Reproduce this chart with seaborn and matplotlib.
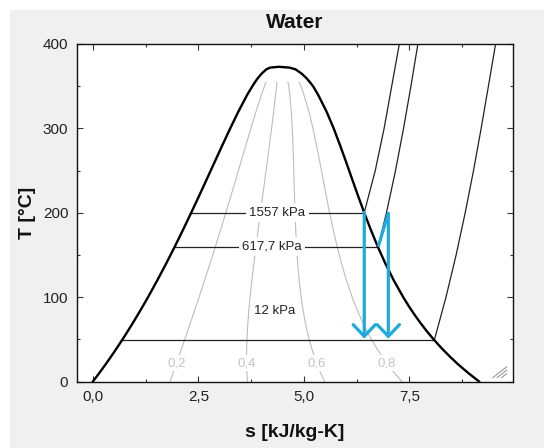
import matplotlib
matplotlib.use("Agg")
import matplotlib.pyplot as plt
import seaborn as sns
import numpy as np
import pandas as pd
from matplotlib.ticker import MultipleLocator, FuncFormatter
from matplotlib.patches import Rectangle

# saturation dome of water (T in C, s in kJ/kg-K)
sat_T = [0.01, 10, 20, 30, 40, 50, 60, 70, 80, 90, 100, 120, 140, 160, 180, 200,
         220, 240, 260, 280, 300, 320, 340, 350, 355, 360, 365, 370, 372, 373]
sat_sf = [0.0, 0.151, 0.2965, 0.4368, 0.5724, 0.7038, 0.8313, 0.9551, 1.0756, 1.1929,
          1.3072, 1.5279, 1.7392, 1.9426, 2.1392, 2.3305, 2.5175, 2.702, 2.8849, 3.0683,
          3.2552, 3.4494, 3.6601, 3.78, 3.845, 3.9167, 4.0014, 4.1112, 4.2, 4.407]
sat_sg = [9.1556, 8.8999, 8.6652, 8.452, 8.2556, 8.0748, 7.9081, 7.754, 7.6111, 7.4781,
          7.3541, 7.1292, 6.9294, 6.7491, 6.585, 6.4302, 6.284, 6.1423, 6.0019, 5.8571,
          5.7059, 5.5362, 5.3357, 5.2177, 5.139, 5.0526, 4.9447, 4.8012, 4.66, 4.407]

# constant pressure lines
p_labels = ["1557 kPa", "617,7 kPa", "12 kPa"]
p_Tsat = [200.4, 160.0, 49.4]
p_sf = [2.335, 1.9426, 0.696]
p_label_s = [4.37, 4.24, 4.30]
p_label_T = [200.4, 160.0, 84.0]

sup_T = [[200.4, 250, 300, 350, 400],
         [160, 200, 250, 300, 350, 400],
         [49.4, 100, 150, 200, 250, 300, 350, 400]]
sup_s = [[6.43, 6.69, 6.90, 7.08, 7.26],
         [6.76, 6.955, 7.17, 7.36, 7.535, 7.70],
         [8.09, 8.365, 8.605, 8.82, 9.017, 9.198, 9.37, 9.54]]

# quality lines
qualities = [0.2, 0.4, 0.6, 0.8]
q_label_T = 22.0
q_max_T = 355

# process states (blue arrows)
proc1_s = [6.43, 6.43]
proc1_T = [200.4, 51.0]
proc2_s = [6.76, 7.00, 7.00]
proc2_T = [160.0, 199.5, 51.0]

blue = "#1eaade"

sns.set_theme(style="ticks")
plt.rcParams["font.family"] = ["Liberation Sans", "DejaVu Sans"]

fig = plt.figure(figsize=(5.44, 4.48), dpi=100)
fig.patches.append(Rectangle((10 / 544, 0), 1, 1 - 10 / 448, transform=fig.transFigure,
                             facecolor="#f0f0f0", edgecolor="none", zorder=-10))
ax = fig.add_axes([0.141, 0.148, 0.8026, 0.7538])
ax.set_facecolor("white")

dome = pd.DataFrame({
    "s": sat_sf + sat_sg[::-1][1:],
    "T": sat_T + sat_T[::-1][1:],
})

# quality lines
sf = np.array(sat_sf)
sg = np.array(sat_sg)
Tarr = np.array(sat_T)
mask = Tarr <= q_max_T
for q in qualities:
    sq = sf[mask] + q * (sg[mask] - sf[mask])
    sns.lineplot(x=sq, y=Tarr[mask], sort=False, estimator=None, ax=ax,
                 color="#bdbdbd", lw=0.8, zorder=1)
    s_lab = np.interp(q_label_T, Tarr, sf) + q * (np.interp(q_label_T, Tarr, sg) - np.interp(q_label_T, Tarr, sf))
    ax.text(s_lab, q_label_T, f"{q:.1f}".replace(".", ","), color="#c4c4c4", fontsize=9.5,
            ha="center", va="center", zorder=2,
            bbox=dict(facecolor="white", edgecolor="none", pad=1.5))

# pressure lines
for lab, Ts, s0, st, ss, ls, lT in zip(p_labels, p_Tsat, p_sf, sup_T, sup_s, p_label_s, p_label_T):
    ax.plot([s0, ss[0]], [Ts, Ts], color="#222222", lw=0.9, zorder=3)
    sns.lineplot(x=ss, y=st, sort=False, estimator=None, ax=ax, color="#222222", lw=0.9, zorder=3)
    ax.text(ls, lT, lab, fontsize=9.5, color="#222222", ha="center", va="center", zorder=4,
            bbox=dict(facecolor="white", edgecolor="none", pad=2.5))

sns.lineplot(data=dome, x="s", y="T", sort=False, estimator=None, ax=ax,
             color="black", lw=1.7, zorder=5)

# process
ax.plot(proc2_s[:2], proc2_T[:2], color=blue, lw=2.3, zorder=6, solid_capstyle="butt")
for s_list, T_list in [(proc1_s, proc1_T), (proc2_s[1:], proc2_T[1:])]:
    ax.annotate("", xy=(s_list[-1], T_list[-1]), xytext=(s_list[0], T_list[0]),
                arrowprops=dict(arrowstyle="->,head_length=0.42,head_width=0.4",
                                color=blue, lw=2.3, shrinkA=0, shrinkB=0,
                                mutation_scale=20), zorder=6)

# resize grip
for k in range(3):
    d = 0.012 + 0.01 * k
    ax.plot([0.985 - d, 0.985], [0.012, 0.012 + d], transform=ax.transAxes,
            color="#9a9a9a", lw=0.8, zorder=7)

ax.set_xlim(-0.38, 9.96)
ax.set_ylim(0, 400)
ax.xaxis.set_major_locator(MultipleLocator(2.5))
ax.xaxis.set_minor_locator(MultipleLocator(1.25))
ax.yaxis.set_major_locator(MultipleLocator(100))
ax.yaxis.set_minor_locator(MultipleLocator(50))
ax.xaxis.set_major_formatter(FuncFormatter(lambda v, p: f"{v:.1f}".replace(".", ",")))
ax.yaxis.set_major_formatter(FuncFormatter(lambda v, p: f"{v:.0f}"))
ax.tick_params(which="both", direction="in", top=True, right=True, color="#333333",
               labelsize=11, labelcolor="#222222", width=0.8)
ax.tick_params(which="major", length=4, pad=6)
ax.tick_params(which="minor", length=2.5)
for sp in ax.spines.values():
    sp.set_color("#111111")
    sp.set_linewidth(1.0)
ax.set_xlabel("")
ax.set_ylabel("")

fig.text(295 / 544, 1 - 22 / 448, "Water", fontsize=15, fontweight="bold",
         ha="center", va="center", color="#111111")
fig.text(295 / 544, 1 - 432 / 448, "s [kJ/kg-K]", fontsize=14, fontweight="bold",
         ha="center", va="center", color="#111111")
fig.text(27 / 544, 1 - 213 / 448, "T [°C]", fontsize=14, fontweight="bold",
         ha="center", va="center", rotation=90, color="#111111")

fig.savefig("out.png", dpi=100, facecolor="white")
